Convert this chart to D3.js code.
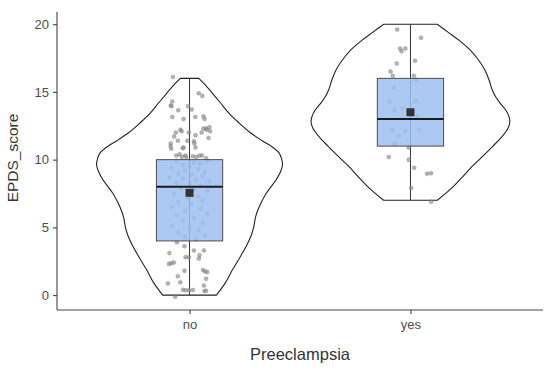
<!DOCTYPE html>
<html>
<head>
<meta charset="utf-8">
<script src="https://cdn.jsdelivr.net/npm/d3@7"></script>
<style>
  html, body { margin: 0; padding: 0; background: #ffffff; }
  svg { display: block; font-family: "Liberation Sans", Arial, sans-serif; }
</style>
</head>
<body>
<svg id="chart" width="550" height="370"></svg>
<script>
// ---------------- data ----------------
const categories = ["no", "yes"];
const yTicks = [0, 5, 10, 15, 20];
const xTitle = "Preeclampsia";
const yTitle = "EPDS_score";

// box statistics per category
const q1 = [4, 11];
const median = [8, 13];
const q3 = [10, 16];
const whiskerLow = [0, 7];
const whiskerHigh = [16, 20];
const means = [7.55, 13.5];

// violin outline (value, relative density) per category, bottom to top
const noViolinValues  = [0, 0.9, 1.85, 2.7, 3.6, 4.4, 5.0, 5.8, 6.5, 7.5, 8.5, 9.1, 9.6, 10.1, 10.5, 11.0, 11.4, 12.0, 12.7, 13.4, 14.2, 14.9, 15.5, 16];
const noViolinDensity = [0.27, 0.36, 0.43, 0.50, 0.57, 0.62, 0.645, 0.665, 0.70, 0.77, 0.87, 0.915, 0.935, 0.925, 0.90, 0.82, 0.73, 0.61, 0.50, 0.40, 0.31, 0.23, 0.16, 0.093];
const yesViolinValues  = [7.0, 7.8, 8.7, 9.5, 10.2, 11.0, 11.7, 12.3, 12.8, 13.2, 13.65, 14.1, 14.6, 15.2, 15.9, 16.6, 17.3, 18.1, 18.8, 19.4, 20];
const yesViolinDensity = [0.27, 0.40, 0.52, 0.62, 0.72, 0.83, 0.92, 0.98, 1.0, 0.99, 0.96, 0.91, 0.86, 0.82, 0.79, 0.75, 0.69, 0.60, 0.49, 0.38, 0.27];

// jittered observations: value and horizontal jitter (in category units)
const noValues = [
  16.1, 14.9, 14.7, 14.3, 14.0, 13.95, 13.95, 13.7, 13.65, 13.15, 13.0, 13.15, 13.2, 13.0, 12.2, 12.3,
  12.1, 12.0, 12.1, 11.8, 12.3, 12.2, 12.0, 12.0, 11.6, 11.2, 11.0, 10.8, 11.4, 10.9, 10.85, 11.4,
  11.35, 11.2, 10.9, 10.3, 10.4, 10.2, 10.3, 10.2, 10.25, 10.2, 10.3, 10.3, 10.1, 11.7, 12.4,
  9.9, 9.8, 9.7, 9.9, 9.6, 9.5, 9.4, 9.3, 9.2, 9.1, 9.0, 8.9, 8.8, 8.7, 8.6, 8.5, 8.4, 8.3, 8.2, 8.1,
  7.9, 7.8, 7.7, 7.5, 7.3, 7.2, 7.0, 6.9, 6.7, 6.5, 6.4, 6.2, 6.0, 5.9, 5.7, 5.5, 5.3, 5.1, 5.0, 4.8,
  4.6, 4.4, 4.3, 4.1,
  3.9, 3.6, 3.1, 3.3, 3.3, 2.95, 2.7, 2.3, 2.35, 2.4, 2.8, 2.8, 1.8, 1.85, 1.7, 1.75, 1.4, 1.2, 0.86,
  0.94, 0.7, 0.4, 0.35, 0.35, 0.37, 0.3, 0.32, -0.12
];
const noJitter = [
  -0.075, 0.042, 0.058, -0.078, -0.085, -0.082, -0.007, 0.010, -0.051, -0.078, -0.027, 0.026, 0.063, 0.068, -0.041, 0.075,
  -0.036, -0.003, 0.093, 0.027, 0.063, 0.077, 0.055, -0.062, 0.086, -0.085, -0.086, -0.083, -0.053, -0.027, -0.031, -0.010,
  0.020, 0.022, 0.027, -0.060, -0.045, -0.035, -0.020, -0.015, 0.015, 0.030, 0.045, 0.056, 0.075, -0.070, 0.090,
  -0.060, 0.020, 0.050, 0.080, -0.030, 0.000, -0.080, 0.040, -0.020, 0.070, -0.050, 0.010, 0.060, -0.090, -0.030, 0.030, 0.090, -0.060, 0.000, 0.050,
  -0.040, 0.020, 0.080, -0.070, 0.040, -0.010, 0.060, -0.050, 0.010, -0.080, 0.050, -0.020, 0.080, -0.060, 0.020, -0.030, 0.060, -0.080, 0.000, 0.040,
  -0.050, 0.070, -0.020, 0.030,
  -0.057, -0.023, -0.091, 0.020, 0.065, 0.045, 0.042, -0.093, -0.083, -0.071, -0.018, -0.003, -0.023, 0.061, 0.080, 0.070, -0.053, 0.075, -0.098,
  -0.042, 0.065, -0.030, -0.018, -0.003, 0.015, 0.068, 0.075, -0.065
];
const yesValues = [
  19.6, 19.0, 18.2, 18.0, 18.2, 17.3, 17.1, 16.5, 16.2, 16.2, 15.9, 15.3, 14.3, 13.65, 13.8, 14.3,
  13.2, 12.2, 11.75, 12.1, 12.2, 11.2, 10.9, 10.2, 10.0, 9.4, 8.95, 9.0, 7.9, 6.9
];
const yesJitter = [
  -0.060, 0.048, -0.047, -0.040, -0.023, 0.021, -0.062, -0.090, -0.080, 0.015, 0.025, -0.075, -0.095, -0.072, -0.036, 0.023,
  0.032, -0.080, -0.053, -0.023, 0.041, -0.072, -0.008, -0.098, -0.008, 0.017, 0.075, 0.093, 0.003, 0.094
];

// ---------------- layout ----------------
const svg = d3.select("#chart");
const panel = { left: 57, right: 543, top: 12, bottom: 310 };

const x = d3.scaleLinear().domain([0.4, 2.6]).range([panel.left, panel.right]);
const y = d3.scaleLinear().domain([-1.1, 20.9]).range([panel.bottom, panel.top]);
const unit = x(1) - x(0);

const violins = [
  { values: noViolinValues, density: noViolinDensity },
  { values: yesViolinValues, density: yesViolinDensity }
];
const points = [
  { values: noValues, jitter: noJitter },
  { values: yesValues, jitter: yesJitter }
];

const g = svg.append("g");

categories.forEach((cat, i) => {
  const cx = x(i + 1);
  const v = violins[i];
  const prof = v.values.map((val, k) => ({ val, d: v.density[k] }));
  const right = prof.map(p => [cx + p.d * 0.45 * unit, y(p.val)]);
  const left = prof.slice().reverse().map(p => [cx - p.d * 0.45 * unit, y(p.val)]);
  const lineGen = d3.line().curve(d3.curveCatmullRom.alpha(0.5));
  const pathD = lineGen(right) + "L" + lineGen(left).slice(1) + "Z";
  g.append("path")
    .attr("d", pathD)
    .attr("fill", "#ffffff")
    .attr("stroke", "#222222")
    .attr("stroke-width", 1.1);

  g.append("line")
    .attr("x1", cx).attr("x2", cx)
    .attr("y1", y(whiskerLow[i])).attr("y2", y(whiskerHigh[i]))
    .attr("stroke", "#333333").attr("stroke-width", 1);
});

// jittered points
categories.forEach((cat, i) => {
  const pts = points[i];
  g.append("g").selectAll("circle")
    .data(pts.values.map((val, k) => ({ val, j: pts.jitter[k] })))
    .join("circle")
    .attr("cx", d => x(i + 1 + d.j))
    .attr("cy", d => y(d.val))
    .attr("r", 2)
    .attr("fill", "#8c8c8c")
    .attr("fill-opacity", 0.65)
    .attr("stroke", "#6e6e6e")
    .attr("stroke-opacity", 0.6)
    .attr("stroke-width", 0.5);
});

// boxes, medians, means
categories.forEach((cat, i) => {
  const cx = x(i + 1);
  const bw = 0.3 * unit;
  g.append("rect")
    .attr("x", cx - bw / 2)
    .attr("y", y(q3[i]))
    .attr("width", bw)
    .attr("height", y(q1[i]) - y(q3[i]))
    .attr("fill", "#9dc0f1")
    .attr("fill-opacity", 0.85)
    .attr("stroke", "#4d4d4d")
    .attr("stroke-width", 1);
  g.append("line")
    .attr("x1", cx - bw / 2).attr("x2", cx + bw / 2)
    .attr("y1", y(median[i])).attr("y2", y(median[i]))
    .attr("stroke", "#1a1a1a").attr("stroke-width", 2);
  g.append("rect")
    .attr("x", cx - 4)
    .attr("y", y(means[i]) - 4)
    .attr("width", 8).attr("height", 8)
    .attr("fill", "#333333");
});

// axes
const yAxis = d3.axisLeft(y).tickValues(yTicks).tickSize(4).tickPadding(4).tickSizeOuter(0);
const yG = svg.append("g").attr("transform", `translate(${panel.left},0)`).call(yAxis);
yG.select(".domain").attr("d", `M0,${panel.bottom}V${panel.top}`);

const xAxis = d3.axisBottom(x).tickValues([1, 2]).tickFormat(d => categories[d - 1]).tickSize(4).tickPadding(6).tickSizeOuter(0);
const xG = svg.append("g").attr("transform", `translate(0,${panel.bottom})`).call(xAxis);
xG.select(".domain").attr("d", `M${panel.left},0H${panel.right}`);

[yG, xG].forEach(a => {
  a.select(".domain").attr("stroke", "#444444").attr("stroke-width", 1.1);
  a.selectAll(".tick line").attr("stroke", "#444444").attr("stroke-width", 1.1);
  a.selectAll(".tick text").attr("fill", "#4d4d4d").attr("font-size", 13)
    .attr("font-family", "Liberation Sans, Arial, sans-serif");
});

svg.append("text")
  .attr("x", (panel.left + panel.right) / 2)
  .attr("y", 360)
  .attr("text-anchor", "middle")
  .attr("font-size", 16.5)
  .attr("fill", "#333333")
  .text(xTitle);

svg.append("text")
  .attr("transform", `translate(18,${(panel.top + panel.bottom) / 2 - 3}) rotate(-90)`)
  .attr("text-anchor", "middle")
  .attr("font-size", 15.5)
  .attr("fill", "#333333")
  .text(yTitle);
</script>
</body>
</html>
